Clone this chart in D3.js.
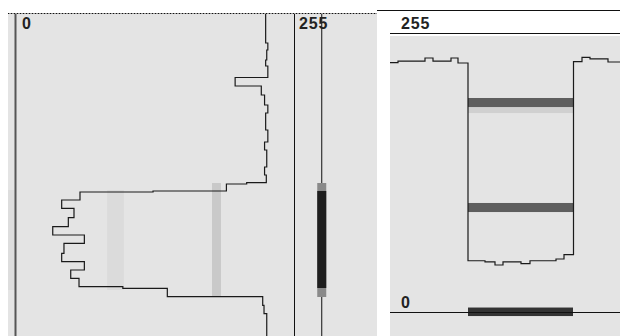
<!DOCTYPE html>
<html>
<head>
<meta charset="utf-8">
<script src="https://cdn.jsdelivr.net/npm/d3@7"></script>
<style>
  body { margin: 0; background: #fff; }
  svg { display: block; }
  text { font-family: "Liberation Sans", Arial, sans-serif; font-weight: bold; font-size: 16px; letter-spacing: 0.8px; fill: #222; }
</style>
</head>
<body>
<svg></svg>
<script>
// vertical profile (left): row where each step starts, intensity 0..255
var leftRows = [0, 29, 36, 46, 52, 63.5, 72, 81, 91, 99, 106, 116, 128, 136, 153, 161, 168.7, 170, 177, 178,
  186, 194.3, 203.7, 212.7, 221, 229.3, 239.3, 247.7, 256, 264.3, 272.7, 274.3, 282.7, 291.3, 299.7]
var leftLevels = [229, 231, 230, 229, 231, 201, 225, 228, 231, 229, 229, 231, 228, 230, 228, 229.6, 211.6, 193, 125.7, 58.7,
  41.9, 53.2, 48, 33.7, 62.7, 44, 41.9, 62.7, 50.2, 57.8, 98, 138.8, 226.3, 227.5, 230]
var leftEnd = 322

// horizontal profile (right): column where each step starts, intensity
var rightCols = [0, 8, 35, 43, 61, 68, 78, 95, 105, 113, 131, 140, 166, 174, 183.5, 192, 200, 218]
var rightLevels = [228.7, 230.2, 233, 230.2, 233, 228.4, 47, 45.9, 43.1, 45.9, 44.3, 47, 48.6, 52.6, 229.6, 233.6, 232.1, 229.3]
var rightEnd = 230

// selected span of the scan line in each panel
var leftSpan = [169, 283]
var rightSpan = [78, 183]
var leftMarker = 280         // marker column, intensity units
var rightBands = [[188, 196.3], [91.7, 100]]
var leftBands = [[83.5, 99, 176, 276], [179.8, 188, 169, 282]]
var tickLabels = ["0", "255"]

var svg = d3.select("svg").attr("width", 620).attr("height", 336)

var xL = d3.scaleLinear().domain([0, 255]).range([16, 294])
var yL = d3.scaleLinear().domain([0, 322]).range([14, 336])
var xR = d3.scaleLinear().domain([0, 230]).range([390, 620])
var yR = d3.scaleLinear().domain([0, 255]).range([312, 34])

// panel backgrounds
svg.append("rect").attr("x", 8).attr("y", 14).attr("width", 369).attr("height", 322).attr("fill", "#e4e4e4")
svg.append("rect").attr("x", 390).attr("y", 36).attr("width", 230).attr("height", 300).attr("fill", "#e4e4e4")
svg.append("rect").attr("x", 8).attr("y", yL(176)).attr("width", 8).attr("height", yL(276) - yL(176)).attr("fill", "#dddddd")

// faint image columns in the left panel
svg.selectAll(".lband").data(leftBands).enter().append("rect")
    .attr("x", d => xL(d[0]))
    .attr("width", d => xL(d[1]) - xL(d[0]))
    .attr("y", d => yL(d[2]))
    .attr("height", d => yL(d[3]) - yL(d[2]))
    .attr("fill", (d, i) => i ? "#c9c9c9" : "#dbdbdb")

// top border of left panel (dotted)
svg.append("line").attr("x1", 8).attr("x2", 377).attr("y1", 13.5).attr("y2", 13.5)
    .attr("stroke", "#999")
svg.append("line").attr("x1", 8).attr("x2", 377).attr("y1", 13.5).attr("y2", 13.5)
    .attr("stroke", "#111").attr("stroke-dasharray", "1,2")

// left axis lines
svg.append("line").attr("x1", xL(0) - 0.5).attr("x2", xL(0) - 0.5).attr("y1", 14).attr("y2", 336)
    .attr("stroke", "#555").attr("stroke-width", 2)
svg.append("line").attr("x1", xL(255) + 0.5).attr("x2", xL(255) + 0.5).attr("y1", 14).attr("y2", 336)
    .attr("stroke", "#111")
svg.append("line").attr("x1", xL(leftMarker) + 0.5).attr("x2", xL(leftMarker) + 0.5).attr("y1", 14).attr("y2", 336)
    .attr("stroke", "#111")

// marker bar on the left
var mx = xL(leftMarker)
svg.append("rect").attr("x", mx - 4).attr("width", 9)
    .attr("y", yL(leftSpan[0])).attr("height", yL(leftSpan[1]) - yL(leftSpan[0]))
    .attr("fill", "#8a8a8a")
svg.append("rect").attr("x", mx - 4).attr("width", 9)
    .attr("y", yL(leftSpan[0] + 8)).attr("height", yL(leftSpan[1] - 9) - yL(leftSpan[0] + 8))
    .attr("fill", "#1e1e1e")

svg.selectAll(".ltick").data(tickLabels).enter().append("text")
    .attr("x", (d, i) => i ? xL(255) + 5 : xL(0) + 6)
    .attr("y", 29)
    .text(d => d)

var lineL = d3.line()
    .x(d => xL(d[1]))
    .y(d => yL(d[0]))
    .curve(d3.curveStepBefore)

var leftPts = leftRows.map((r, i) => [r, leftLevels[i]])
leftPts.push([leftEnd, leftLevels[leftLevels.length - 1]])

svg.append("path").datum(leftPts)
    .attr("d", lineL)
    .attr("fill", "none")
    .attr("stroke", "#1a1a1a")
    .attr("stroke-width", 1.2)

// right panel
svg.append("line").attr("x1", 377).attr("x2", 620).attr("y1", 10.5).attr("y2", 10.5).attr("stroke", "#111")
svg.append("line").attr("x1", 390).attr("x2", 620).attr("y1", yR(255) - 0.5).attr("y2", yR(255) - 0.5).attr("stroke", "#111")

svg.append("rect").attr("x", xR(rightSpan[0])).attr("width", xR(rightSpan[1]) - xR(rightSpan[0]))
    .attr("y", yR(188)).attr("height", yR(182.5) - yR(188)).attr("fill", "#d0d0d0")
svg.selectAll(".rband").data(rightBands).enter().append("rect")
    .attr("x", xR(rightSpan[0]))
    .attr("width", xR(rightSpan[1]) - xR(rightSpan[0]))
    .attr("y", d => yR(d[1]))
    .attr("height", d => yR(d[0]) - yR(d[1]))
    .attr("fill", "#5e5e5e")

svg.append("rect").attr("x", xR(rightSpan[0])).attr("width", xR(rightSpan[1]) - xR(rightSpan[0]))
    .attr("y", yR(4.1)).attr("height", yR(-3.7) - yR(4.1)).attr("fill", "#333")
svg.append("line").attr("x1", 390).attr("x2", 620).attr("y1", yR(0) + 0.5).attr("y2", yR(0) + 0.5).attr("stroke", "#111")

svg.append("text").attr("x", 401).attr("y", 29).text(tickLabels[1])
svg.append("text").attr("x", 401).attr("y", 307.5).text(tickLabels[0])

var lineR = d3.line()
    .x(d => xR(d[0]))
    .y(d => yR(d[1]))
    .curve(d3.curveStepAfter)

var rightPts = rightCols.map((c, i) => [c, rightLevels[i]])
rightPts.push([rightEnd, rightLevels[rightLevels.length - 1]])

svg.append("path").datum(rightPts)
    .attr("d", lineR)
    .attr("fill", "none")
    .attr("stroke", "#1a1a1a")
    .attr("stroke-width", 1.2)
</script>
</body>
</html>
